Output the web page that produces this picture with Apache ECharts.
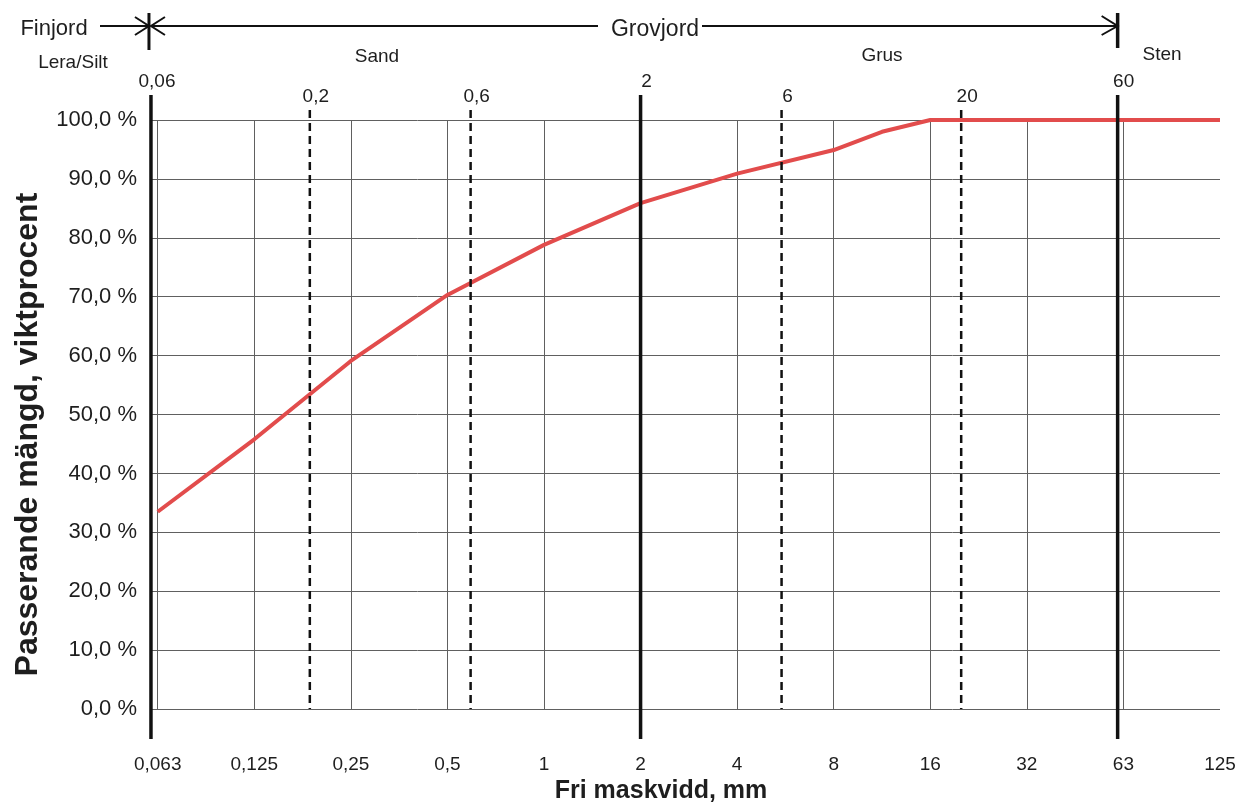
<!DOCTYPE html>
<html>
<head>
<meta charset="utf-8">
<title>Kornfördelning</title>
<script src="https://cdn.jsdelivr.net/npm/echarts@6/dist/echarts.min.js"></script>
<style>
  html, body { margin: 0; padding: 0; background: #fff; }
  #chart { width: 1240px; height: 809px; }
</style>
</head>
<body>
<div id="chart"></div>
<script>
// sieve sizes (mm), evenly spaced on the x axis (one step = one doubling)
const sieveLabels = ['0,063', '0,125', '0,25', '0,5', '1', '2', '4', '8', '16', '32', '63', '125'];
const sieveSteps = [0, 1, 2, 3, 4, 5, 6, 7, 8, 9, 10, 11];
const gridSteps = [0, 1, 2, 3, 4, 5, 6, 7, 8, 9, 10];

// passing curve, weight percent
const curveSteps = [0, 1, 2, 3, 4, 5, 6, 7, 7.5, 8, 9, 10, 11];
const curvePass = [33.5, 45.8, 59.1, 70.3, 78.8, 85.9, 90.9, 94.9, 98.0, 100, 100, 100, 100];

// soil class limits
const limitLabels = ['0,06', '0,2', '0,6', '2', '6', '20', '60'];
const limitSteps = [-0.07, 1.575, 3.24, 5, 6.46, 8.32, 9.94];
const limitSolid = [true, false, false, true, false, false, true];

const font = 'Arial, "Liberation Sans", sans-serif';
const ink = '#1e1e1e';

const chart = echarts.init(document.getElementById('chart'));

const option = {
  backgroundColor: '#fff',
  animation: false,
  grid: { left: 150, right: 20, top: 120, bottom: 95 },
  xAxis: {
    type: 'value',
    min: -0.08,
    max: 11,
    name: 'Fri maskvidd, mm',
    nameLocation: 'middle',
    nameGap: 69,
    nameTextStyle: { fontFamily: font, fontSize: 25, fontWeight: 'bold', color: ink, padding: [0, 48, 0, 0] },
    axisLine: { show: false },
    axisTick: { show: false, customValues: gridSteps },
    axisLabel: {
      customValues: sieveSteps,
      formatter: v => sieveLabels[Math.round(v)],
      margin: 46,
      fontFamily: font,
      fontSize: 19,
      color: ink
    },
    splitLine: { show: true, lineStyle: { color: '#606060', width: 1 } }
  },
  yAxis: {
    type: 'value',
    min: 0,
    max: 100,
    interval: 10,
    name: 'Passerande mängd, viktprocent',
    nameLocation: 'middle',
    nameGap: 106,
    nameTextStyle: { fontFamily: font, fontSize: 32, fontWeight: 'bold', color: ink, padding: [0, 40, 0, 0] },
    axisLine: { show: false },
    axisTick: { show: false },
    axisLabel: {
      margin: 13,
      fontFamily: font,
      fontSize: 22,
      color: ink,
      formatter: v => v.toFixed(1).replace('.', ',') + ' %'
    },
    splitLine: { lineStyle: { color: '#606060', width: 1 } }
  },
  series: [
    {
      type: 'line',
      data: curveSteps.map((s, i) => [s, curvePass[i]]),
      symbol: 'none',
      lineStyle: { color: '#e24c4c', width: 4 },
      z: 3
    },
    {
      // limit lines, drawn past the plot area like in the original
      type: 'custom',
      data: limitSteps.map((s, i) => [s, 0, i]),
      encode: { x: 0, y: 1 },
      z: 5,
      renderItem: (params, api) => {
        const i = api.value(2);
        const top = api.coord([api.value(0), 100]);
        const bot = api.coord([api.value(0), 0]);
        const solid = limitSolid[i];
        const y1 = solid ? top[1] - 25 : top[1] - 10;
        const y2 = solid ? bot[1] + 30 : bot[1];
        return {
          type: 'group',
          children: [
            {
              type: 'line',
              shape: { x1: top[0], y1: y1, x2: top[0], y2: y2 },
              style: solid
                ? { stroke: '#111', lineWidth: 3.5 }
                : { stroke: '#111', lineWidth: 2.5, lineDash: [8, 5] }
            },
            {
              type: 'text',
              x: top[0] + 6,
              y: y1 - 4,
              style: {
                text: limitLabels[i],
                font: '19px ' + font,
                fill: ink,
                align: 'center',
                verticalAlign: 'bottom'
              }
            }
          ]
        };
      }
    }
  ]
};

chart.setOption(option);

// top annotations: Finjord / Grovjord arrows and the soil class names
const xFine = chart.convertToPixel({ xAxisIndex: 0, yAxisIndex: 0 }, [limitSteps[0], 100])[0];
const xStone = chart.convertToPixel({ xAxisIndex: 0, yAxisIndex: 0 }, [limitSteps[6], 100])[0];
const arrowY = 26;
const stroke = { stroke: '#111', lineWidth: 2 };
const txt = (text, x, y, size) => ({
  type: 'text', x: x, y: y,
  style: { text: text, font: size + 'px ' + font, fill: ink, align: 'center', verticalAlign: 'middle' }
});

chart.setOption({
  graphic: [
    txt('Finjord', 54, 29, 22),
    { type: 'line', shape: { x1: 100, y1: arrowY, x2: xFine - 2, y2: arrowY }, style: stroke },
    { type: 'polyline', shape: { points: [[xFine - 16, arrowY - 9], [xFine - 2, arrowY], [xFine - 16, arrowY + 9]] }, style: stroke },
    { type: 'line', shape: { x1: xFine - 2, y1: 13, x2: xFine - 2, y2: 50 }, style: { stroke: '#111', lineWidth: 3 } },
    { type: 'polyline', shape: { points: [[xFine + 14, arrowY - 9], [xFine, arrowY], [xFine + 14, arrowY + 9]] }, style: stroke },
    { type: 'line', shape: { x1: xFine, y1: arrowY, x2: 598, y2: arrowY }, style: stroke },
    txt('Grovjord', 655, 30, 23),
    { type: 'line', shape: { x1: 702, y1: arrowY, x2: xStone, y2: arrowY }, style: stroke },
    { type: 'polyline', shape: { points: [[xStone - 16, arrowY - 10], [xStone, arrowY], [xStone - 16, arrowY + 9]] }, style: stroke },
    { type: 'line', shape: { x1: xStone, y1: 13, x2: xStone, y2: 48 }, style: { stroke: '#111', lineWidth: 3.5 } },
    txt('Lera/Silt', 73, 63, 19),
    txt('Sand', 377, 57, 19),
    txt('Grus', 882, 56, 19),
    txt('Sten', 1162, 55, 19)
  ]
});
</script>
</body>
</html>
